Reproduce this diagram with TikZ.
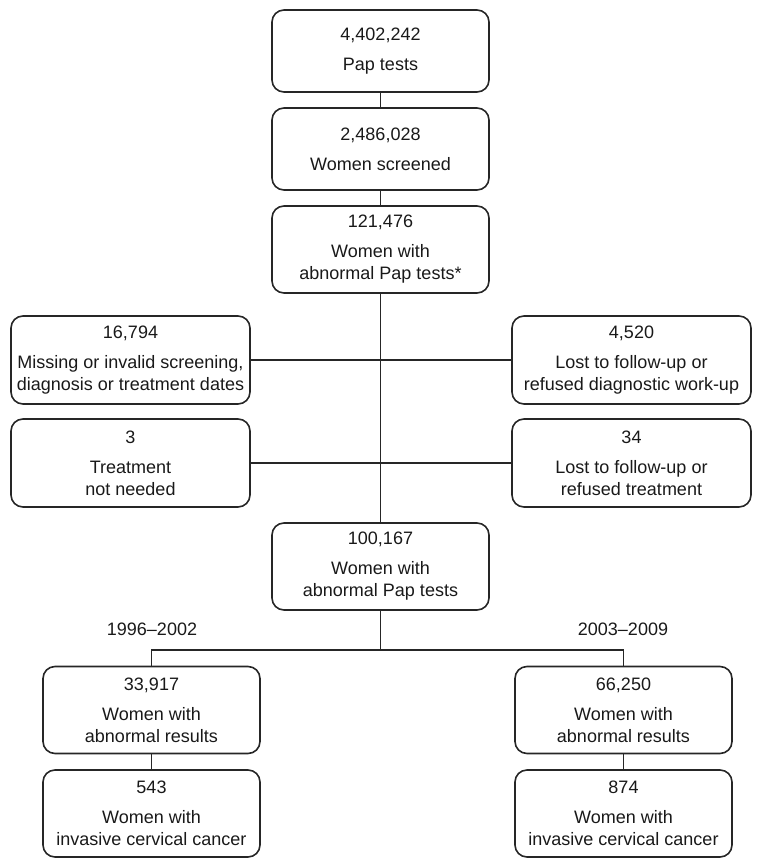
\documentclass[tikz,border=0pt]{standalone}
\usepackage{fontspec}
\setmainfont{Liberation Sans}
\tikzstyle{box}=[draw=black!85, rounded corners=12pt, line width=1.6pt, minimum width=217pt, minimum height=87pt, align=center, inner sep=0pt, text=black!90, font=\fontsize{18}{22}\selectfont]
\tikzstyle{topbox}=[box, minimum height=82pt]
\tikzstyle{sidebox}=[box, minimum width=239pt, minimum height=88pt]
\tikzstyle{edge}=[draw, line width=1.6pt, black!85]
\tikzstyle{period}=[text=black!90, font=\fontsize{18}{22}\selectfont]

\begin{document}
\begin{tikzpicture}[x=1pt, y=-1pt]
    \useasboundingbox (0,0) rectangle (762,868);

    % main column
    \foreach \x/\y/\name/\txt in {380.5/51/pap/{4,402,242\\[8pt]Pap tests},
                                  380.5/149/screened/{2,486,028\\[8pt]Women screened}}
        \node[topbox] (\name) at (\x,\y) {\txt};

    \foreach \x/\y/\name/\txt in {380.5/249.5/abnone/{121,476\\[8pt]Women with\\abnormal Pap tests*},
                                  380.5/566.5/abntwo/{100,167\\[8pt]Women with\\abnormal Pap tests},
                                  151.5/710/resone/{33,917\\[8pt]Women with\\abnormal results},
                                  623.5/710/restwo/{66,250\\[8pt]Women with\\abnormal results},
                                  151.5/813.5/cancerone/{543\\[8pt]Women with\\invasive cervical cancer},
                                  623.5/813.5/cancertwo/{874\\[8pt]Women with\\invasive cervical cancer}}
        \node[box] (\name) at (\x,\y) {\txt};

    % exclusions
    \foreach \x/\y/\name/\txt in {130.5/360/missing/{16,794\\[8pt]Missing or invalid screening,\\diagnosis or treatment dates},
                                  631.5/360/lostdiag/{4,520\\[8pt]Lost to follow-up or\\refused diagnostic work-up},
                                  130.5/463/notneeded/{3\\[8pt]Treatment\\not needed},
                                  631.5/463/losttreat/{34\\[8pt]Lost to follow-up or\\refused treatment}}
        \node[sidebox] (\name) at (\x,\y) {\txt};

    \node[period] (early) at (152,629.5) {1996--2002};
    \node[period] (late) at (623,629.5) {2003--2009};

    \foreach \source/\dest in {pap/screened, screened/abnone, abnone/abntwo,
                               missing/lostdiag, notneeded/losttreat,
                               resone/cancerone, restwo/cancertwo}
        \path[edge] (\source) -- (\dest);

    \coordinate (split) at (380.5,650);
    \path[edge] (abntwo) -- (split);
    \path[edge] (split) -| (resone);
    \path[edge] (split) -| (restwo);

\end{tikzpicture}
\end{document}
